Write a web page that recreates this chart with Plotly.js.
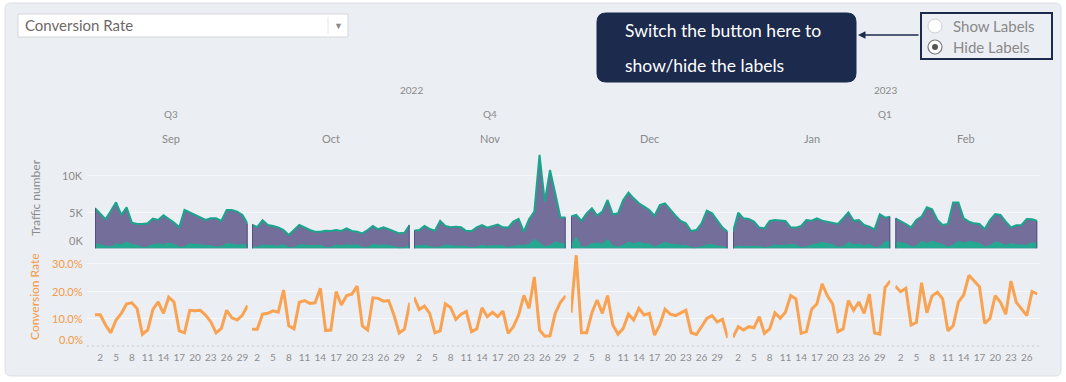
<!DOCTYPE html>
<html><head><meta charset="utf-8">
<script src="https://cdn.plot.ly/plotly-3.0.1.min.js"></script>
<style>html,body{margin:0;padding:0;background:#fff;}#chart{width:1066px;height:382px;}</style>
</head><body><div id="chart"></div>
<script>
// ---------- data ----------
const months = ['Sep','Oct','Nov','Dec','Jan','Feb'];
const quarters = ['Q3','Q4','Q1'];
const years = ['2022','2023'];
const trafficTickVals = [0,5000,10000];
const trafficTickText = ['0K','5K','10K'];
const rateTickVals = [0,10,20,30];
const rateTickText = ['0.0%','10.0%','20.0%','30.0%'];

const sepTraffic = [5550,4760,4030,5170,6370,4620,5680,3570,3380,3380,3470,4120,3930,4580,4120,3570,2920,5320,4990,4620,4260,3930,4160,4160,3800,5320,5320,5090,4620,3380];
const sepConversions = [640,550,310,260,610,550,870,560,460,150,210,550,630,550,730,570,170,270,650,600,560,450,370,210,250,700,550,490,530,500];
const sepRate = [11.5,11.5,7.8,5.0,9.6,12.0,15.4,15.8,13.7,4.5,6.0,13.4,16.1,12.0,17.8,16.1,5.7,5.0,13.1,12.9,13.1,11.4,8.9,5.0,6.6,13.1,10.4,9.6,11.4,14.8];

const octTraffic = [3300,2950,3900,3240,3100,2920,2550,1860,2550,3240,2920,2550,2320,2320,2460,2420,2550,2420,2780,2420,2320,2090,2550,3100,2650,2920,2650,2320,2090,2180,3240];
const octConversions = [210,190,460,390,400,360,520,140,160,520,480,400,370,490,140,150,500,360,510,460,510,160,150,550,460,480,440,260,100,140,510];
const octRate = [6.3,6.3,11.7,12.0,12.9,12.4,20.4,7.5,6.4,16.0,16.6,15.6,15.8,21.0,5.8,6.0,19.8,15.0,18.4,18.9,21.8,7.5,6.0,17.6,17.4,16.4,16.6,11.4,4.9,6.3,15.8];

const novTraffic = [2460,2550,3100,2690,2460,3800,3100,2920,3010,2920,2420,2420,2920,3240,2880,3100,3290,2920,2880,3700,4070,2320,4030,5080,12900,6460,10830,7610,4260,4260];
const novConversions = [440,340,450,320,120,220,480,410,300,340,310,130,190,450,310,380,360,370,140,270,460,430,560,1280,770,250,420,910,680,780];
const novRate = [17.8,13.4,14.6,12.0,5.0,5.7,15.4,14.1,9.8,11.7,12.7,5.4,6.4,14.0,10.8,12.4,10.8,12.8,4.8,7.2,11.4,18.5,13.8,25.1,6.0,3.8,3.9,12.0,16.0,18.3];

const decTraffic = [4390,4620,3800,4850,5540,4530,5080,6690,4720,4850,6690,7700,6920,6230,5770,5310,4530,6000,6230,5310,4530,3800,3470,2420,2550,3470,5220,4850,3800,2880,2320];
const decConversions = [540,1520,190,240,680,760,610,1230,370,220,440,900,660,860,660,640,190,470,840,620,510,460,450,120,110,250,530,540,340,280,70];
const decRate = [12.2,32.9,5.0,5.0,12.2,16.8,12.0,18.4,7.8,4.5,6.6,11.7,9.6,13.8,11.4,12.0,4.2,7.8,13.5,11.7,11.2,12.2,13.1,5.0,4.4,7.2,10.2,11.2,8.9,9.8,3.2];

const janTraffic = [2320,4940,4160,4070,3700,2880,2780,3800,3930,3840,3800,2920,2880,3100,3930,3840,4160,3840,3700,3470,3380,4160,4990,3840,3930,3240,3010,2650,4720,4260,4390];
const janConversions = [80,360,250,290,250,310,130,240,480,390,470,540,500,150,210,520,640,870,680,530,180,270,830,500,630,390,570,130,210,910,1040];
const janRate = [3.4,7.2,6.0,7.2,6.8,10.8,4.8,6.4,12.2,10.2,12.4,18.4,17.2,4.8,5.4,13.5,15.4,22.6,18.3,15.4,5.4,6.4,16.6,13.1,16.1,12.0,18.9,4.9,4.5,21.3,23.7];

const febTraffic = [4160,3800,3380,2920,3930,4390,5680,5400,3930,3240,3380,6330,6330,4160,3700,3470,3380,2690,3930,4760,4620,3700,2920,3200,3240,4070,4030,3800];
const febConversions = [910,750,710,230,340,1010,690,990,770,560,190,470,1010,770,950,830,730,230,400,880,740,430,690,510,450,460,800,720];
const febRate = [21.8,19.8,21.0,7.8,8.7,23.0,12.2,18.3,19.6,17.2,5.7,7.5,16.0,18.6,25.7,23.8,21.6,8.4,10.2,18.4,16.0,11.7,23.6,16.0,13.8,11.2,19.8,19.0];

// ---------- layout helpers ----------
const W = 1066, H = 382;
const px = x => x / W, py = y => 1 - y / H;
const FONT = 'Lato, "Open Sans", sans-serif';
const NAVY = '#1b2a4d';
const monthData = [
  {traffic: sepTraffic, conv: sepConversions, rate: sepRate},
  {traffic: octTraffic, conv: octConversions, rate: octRate},
  {traffic: novTraffic, conv: novConversions, rate: novRate},
  {traffic: decTraffic, conv: decConversions, rate: decRate},
  {traffic: janTraffic, conv: janConversions, rate: janRate},
  {traffic: febTraffic, conv: febConversions, rate: febRate}
];
const seg = [[95,247.7],[252,409.7],[414,565.7],[571,727.7],[733,890.3],[895.3,1037.3]];

const traces = [
  {type:'scatter', x:[], y:[], xaxis:'x', yaxis:'y', hoverinfo:'skip', showlegend:false},
  {type:'scatter', x:[], y:[], xaxis:'x', yaxis:'y2', hoverinfo:'skip', showlegend:false}
];
const layout = {
  width: W, height: H,
  margin: {l:0, r:0, t:0, b:0},
  paper_bgcolor: '#ffffff',
  plot_bgcolor: 'rgba(0,0,0,0)',
  showlegend: false,
  font: {family: FONT, color: '#8c8c8c'},
  xaxis: {domain:[px(87), px(1040)], range:[0,1], visible:false, fixedrange:true},
  yaxis: {domain:[py(248.5), py(150.6)], range:[0,13500], anchor:'x', tickmode:'array',
          tickvals: trafficTickVals, showticklabels:false, showgrid:true, gridcolor:'#f7f8fa',
          gridwidth:1, zeroline:false, showline:false, ticks:''},
  yaxis2: {domain:[py(346.7), py(252.2)], range:[0,34], anchor:'x', tickmode:'array',
          tickvals: rateTickVals.slice(1), showticklabels:false, showgrid:true, gridcolor:'#f7f8fa',
          gridwidth:1, zeroline:false, showline:false, ticks:''},
  shapes: [], annotations: []
};

monthData.forEach((m, i) => {
  const xa = 'x' + (i + 2);
  const days = m.traffic.map((_, k) => k + 1);
  const n = days.length;
  traces.push({type:'scatter', mode:'lines', x:days, y:m.traffic, xaxis:xa, yaxis:'y',
    fill:'tozeroy', fillcolor:'#736f9a', line:{color:'#1aa58d', width:2}, hoverinfo:'skip', showlegend:false});
  traces.push({type:'scatter', mode:'lines', x:days, y:m.conv, xaxis:xa, yaxis:'y',
    fill:'tozeroy', fillcolor:'#25a892', line:{color:'#25a892', width:1}, hoverinfo:'skip', showlegend:false});
  traces.push({type:'scatter', mode:'lines', x:[1,1,null,n,n], y:[0,m.traffic[0],null,0,m.traffic[n-1]],
    xaxis:xa, yaxis:'y', line:{color:'#55517e', width:2}, hoverinfo:'skip', showlegend:false});
  traces.push({type:'scatter', mode:'lines', x:days, y:m.rate, xaxis:xa, yaxis:'y2',
    line:{color:'#f9a352', width:3}, hoverinfo:'skip', showlegend:false});
  layout['xaxis' + (i + 2)] = {
    domain:[px(seg[i][0]), px(seg[i][1])], range:[1, n], anchor:'y2',
    tickmode:'linear', tick0:2, dtick:3, ticks:'', showgrid:false, zeroline:false, showline:false,
    ticklabelstandoff:3,
    tickfont:{size:10, color:'#8d8d8d', family:FONT}, fixedrange:true
  };
  layout.annotations.push({xref: xa + ' domain', x:0.5, yref:'paper', y:py(138), text:months[i],
    showarrow:false, xanchor:'center', yanchor:'middle', font:{size:11, color:'#8a8a8a', family:FONT}});
});

// hierarchical header (years / quarters)
const dom = i => [px(seg[i][0]), px(seg[i][1])];
const mid = (a, b) => (dom(a)[0] + dom(b)[1]) / 2;
[[years[0], mid(0,3), 90], [years[1], mid(4,5), 90],
 [quarters[0], mid(0,0), 114], [quarters[1], mid(1,3), 114], [quarters[2], mid(4,5), 114]
].forEach(([t, x, y]) => layout.annotations.push({xref:'paper', yref:'paper', x:x, y:py(y), text:t,
  showarrow:false, xanchor:'center', yanchor:'middle', font:{size:10, color:'#8a8a8a', family:FONT}}));

// y tick labels
trafficTickVals.forEach((v, k) => layout.annotations.push({xref:'paper', yref:'y', x:px(85), y:v,
  text:trafficTickText[k], showarrow:false, xanchor:'right', yanchor:'middle', yshift: v === 0 ? 8 : 0,
  font:{size:11, color:'#8c8c8c', family:FONT}}));
rateTickVals.forEach((v, k) => layout.annotations.push({xref:'paper', yref:'y2', x:px(85), y:v,
  text:rateTickText[k], showarrow:false, xanchor:'right', yanchor:'middle', yshift: v === 0 ? 7.5 : 0,
  font:{size:11, color:'#f39a44', family:FONT}}));

// axis titles
layout.annotations.push({xref:'paper', yref:'paper', x:px(35), y:py(198), text:'Traffic number',
  textangle:-90, showarrow:false, xanchor:'center', yanchor:'middle', font:{size:12, color:'#8c8c8c', family:FONT}});
layout.annotations.push({xref:'paper', yref:'paper', x:px(34), y:py(297), text:'Conversion Rate',
  textangle:-90, showarrow:false, xanchor:'center', yanchor:'middle', font:{size:12, color:'#f39a44', family:FONT}});

// rounded rect path helper (pixel coords -> paper)
function rrect(x0, y0, x1, y1, r) {
  const P = (x, y) => px(x) + ',' + py(y);
  return 'M' + P(x0 + r, y0) + ' L' + P(x1 - r, y0) + ' Q' + P(x1, y0) + ' ' + P(x1, y0 + r) +
    ' L' + P(x1, y1 - r) + ' Q' + P(x1, y1) + ' ' + P(x1 - r, y1) +
    ' L' + P(x0 + r, y1) + ' Q' + P(x0, y1) + ' ' + P(x0, y1 - r) +
    ' L' + P(x0, y0 + r) + ' Q' + P(x0, y0) + ' ' + P(x0 + r, y0) + ' Z';
}
const S = layout.shapes;
S.push({type:'path', xref:'paper', yref:'paper', path:rrect(5, 3, 1061, 376, 6),
  fillcolor:'#ebeef3', line:{color:'#dcdfe5', width:1}, layer:'below'});
S.push({type:'line', xref:'paper', yref:'y2', x0:px(87), x1:px(1040), y0:0, y1:0,
  line:{color:'#d2d5db', width:3, dash:'2px,3px'}, layer:'below'});
// dropdown
S.push({type:'rect', xref:'paper', yref:'paper', x0:px(18), x1:px(348), y0:py(37), y1:py(14),
  fillcolor:'#ffffff', line:{color:'#d4d6da', width:1}});
S.push({type:'line', xref:'paper', yref:'paper', x0:px(328), x1:px(328), y0:py(17), y1:py(34),
  line:{color:'#e6e6e6', width:1}});
layout.annotations.push({xref:'paper', yref:'paper', x:px(23), y:py(25.5), text:'Conversion Rate',
  showarrow:false, xanchor:'left', yanchor:'middle', font:{size:15, color:'#6f6866', family:FONT}});
layout.annotations.push({xref:'paper', yref:'paper', x:px(338), y:py(25), text:'▼',
  showarrow:false, xanchor:'center', yanchor:'middle', font:{size:9, color:'#8a8a8a', family:FONT}});
// callout
S.push({type:'path', xref:'paper', yref:'paper', path:rrect(597, 13, 856, 82, 9),
  fillcolor:NAVY, line:{color:NAVY, width:1}});
layout.annotations.push({xref:'paper', yref:'paper', x:px(623), y:py(30), text:'Switch the button here to',
  showarrow:false, xanchor:'left', yanchor:'middle', font:{size:17.5, color:'#ffffff', family:FONT}});
layout.annotations.push({xref:'paper', yref:'paper', x:px(623), y:py(65), text:'show/hide the labels',
  showarrow:false, xanchor:'left', yanchor:'middle', font:{size:17.5, color:'#ffffff', family:FONT}});
layout.annotations.push({xref:'paper', yref:'paper', x:px(858), y:py(35), axref:'paper', ayref:'paper',
  ax:px(920), ay:py(35), text:'', showarrow:true, arrowhead:2, arrowsize:1, arrowwidth:1.5, arrowcolor:NAVY});
// radio box
S.push({type:'rect', xref:'paper', yref:'paper', x0:px(921), x1:px(1052), y0:py(59), y1:py(13),
  line:{color:NAVY, width:2}});
S.push({type:'circle', xref:'paper', yref:'paper', x0:px(928), x1:px(942), y0:py(33), y1:py(19),
  fillcolor:'#ffffff', line:{color:'#cfcfcf', width:1}});
S.push({type:'circle', xref:'paper', yref:'paper', x0:px(928), x1:px(942), y0:py(54), y1:py(40),
  fillcolor:'#ffffff', line:{color:'#7a7a7a', width:1.2}});
S.push({type:'circle', xref:'paper', yref:'paper', x0:px(932), x1:px(938), y0:py(50), y1:py(44),
  fillcolor:'#555555', line:{color:'#555555', width:0}});
layout.annotations.push({xref:'paper', yref:'paper', x:px(951), y:py(26), text:'Show Labels',
  showarrow:false, xanchor:'left', yanchor:'middle', font:{size:15, color:'#8a8a8a', family:FONT}});
layout.annotations.push({xref:'paper', yref:'paper', x:px(951), y:py(47), text:'Hide Labels',
  showarrow:false, xanchor:'left', yanchor:'middle', font:{size:15, color:'#8a8a8a', family:FONT}});

Plotly.newPlot('chart', traces, layout, {staticPlot:true, displayModeBar:false});
</script>
</body></html>
